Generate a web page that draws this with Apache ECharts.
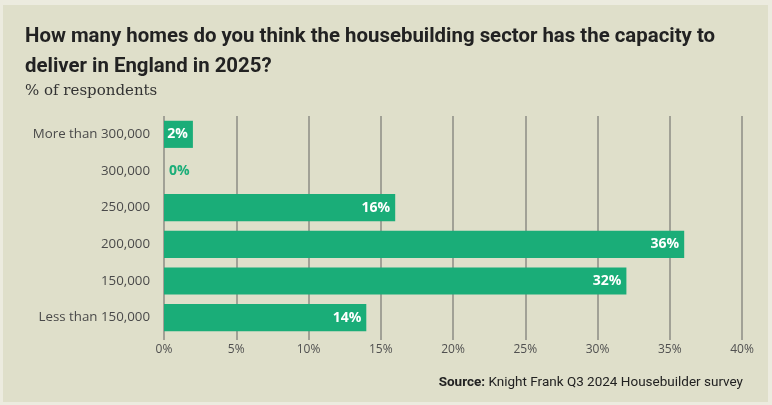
<!DOCTYPE html>
<html><head><meta charset="utf-8">
<script src="https://cdn.jsdelivr.net/npm/echarts@6/dist/echarts.min.js"></script>
<style>html,body{margin:0;padding:0;background:#ecebdf;}#c{width:772px;height:405px;}</style>
</head><body><div id="c"></div>
<script>
const categories = ['Less than 150,000','150,000','200,000','250,000','300,000','More than 300,000'];
const values = [14, 32, 36, 16, 0, 2];
const xTicks = [0,5,10,15,20,25,30,35,40];
const green = '#1aad78';
const chart = echarts.init(document.getElementById('c'));
chart.setOption({
  backgroundColor: '#ecebdf',
  animation: false,
  graphic: [{type:'rect', shape:{x:3,y:5,width:765,height:397}, style:{fill:'#dfdfca'}, z:-10}],
  title: [
    {text:'How many homes do you think the housebuilding sector has the capacity to\ndeliver in England in 2025?', left:25, top:22, padding:0,
     textStyle:{fontFamily:'Roboto', fontWeight:'bold', fontSize:20.4, lineHeight:30, color:'#222'}},
    {text:'% of respondents', left:25, top:84, padding:0, textStyle:{fontFamily:'DejaVu Serif', fontWeight:'normal', fontSize:15, color:'#333'}},
    {text:'{b|Source:} Knight Frank Q3 2024 Housebuilder survey', right:29, top:376, padding:0,
     textStyle:{rich:{b:{fontFamily:'Roboto',fontWeight:'bold',fontSize:13.5,color:'#222'}}, fontFamily:'Roboto', fontWeight:'normal', fontSize:13.5, color:'#222'}}
  ],
  grid: {left:164, right:30, top:116, bottom:69, containLabel:false},
  xAxis: {type:'value', min:0, max:40, interval:5,
    axisLabel:{formatter:v=>v+'%', color:'#505050', fontFamily:'Open Sans', fontSize:12, margin:8},
    axisLine:{show:false},
    axisTick:{show:true, length:4, lineStyle:{color:'#8c8c84', width:1.5}},
    splitLine:{show:true, lineStyle:{color:'#8c8c84', width:1.5}}},
  yAxis: {type:'category', data:categories,
    axisLabel:{color:'#4a4a4a', fontFamily:'Open Sans', fontSize:13.3, margin:14},
    axisLine:{show:false}, axisTick:{show:false}},
  series: [{type:'bar', data: values.map(v => v === 0 ? {value:v, label:{position:'right', color:green, distance:5}} : v),
    itemStyle:{color:green}, barCategoryGap:'26%',
    label:{show:true, position:'insideRight', distance:5, formatter:p=>p.value+'%', color:'#fff', fontWeight:'bold', fontFamily:'Open Sans', fontSize:14}}]
});
</script></body></html>
